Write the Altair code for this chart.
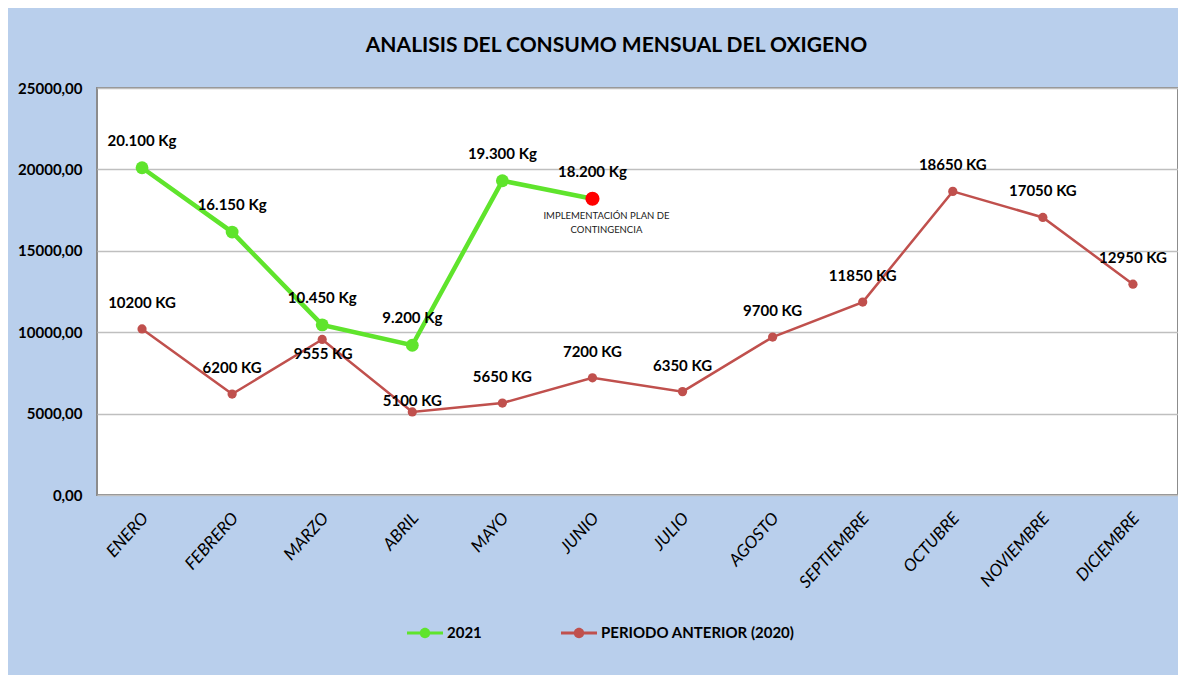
import altair as alt
import pandas as pd

months = ["ENERO", "FEBRERO", "MARZO", "ABRIL", "MAYO", "JUNIO", "JULIO",
          "AGOSTO", "SEPTIEMBRE", "OCTUBRE", "NOVIEMBRE", "DICIEMBRE"]
values_2021 = [20100, 16150, 10450, 9200, 19300, 18200]
values_2020 = [10200, 6200, 9555, 5100, 5650, 7200, 6350, 9700, 11850, 18650, 17050, 12950]
series_names = ["2021", "PERIODO ANTERIOR (2020)"]
y_ticks = [0, 5000, 10000, 15000, 20000, 25000]
note_month = "JUNIO"
note_text = "IMPLEMENTACIÓN PLAN DE\nCONTINGENCIA"
title_text = "ANALISIS DEL CONSUMO MENSUAL DEL OXIGENO"

GREEN = "#5fe42c"
RED = "#c0504d"
FONT = "Lato"

rows = []
for m, v in zip(months, values_2021):
    rows.append({"mes": m, "serie": series_names[0], "valor": v})
for m, v in zip(months, values_2020):
    rows.append({"mes": m, "serie": series_names[1], "valor": v})
df = pd.DataFrame(rows)

note_df = pd.DataFrame([{"mes": note_month, "serie": series_names[0],
                         "valor": values_2021[months.index(note_month)],
                         "nota": note_text}])

LEGEND_SYMBOL = ("M-1,-0.09 L1,-0.09 L1,0.09 L-1,0.09 Z "
                 "M0.29,0 A0.29,0.29 0 1,1 -0.29,0 A0.29,0.29 0 1,1 0.29,0 Z")

x_enc = alt.X("mes:N", sort=months, title=None,
              axis=alt.Axis(labelAngle=-48, labelAlign="right", labelBaseline="middle",
                            labelFont=FONT, labelFontStyle="italic", labelFontSize=17,
                            labelColor="black", labelPadding=20, labelOffset=3,
                            ticks=False, domain=False, grid=False))
y_enc = alt.Y("valor:Q", title=None,
              scale=alt.Scale(domain=[0, 25000], nice=False),
              axis=alt.Axis(values=y_ticks,
                            labelExpr="replace(format(datum.value, '.2f'), '.', ',')",
                            labelFont=FONT, labelFontWeight="bold", labelFontSize=15,
                            labelColor="black", labelPadding=15, ticks=False,
                            domain=False, grid=True, gridColor="#bfbfbf", gridWidth=1.5))
color_enc = alt.Color("serie:N",
                      scale=alt.Scale(domain=series_names, range=[GREEN, RED]),
                      legend=alt.Legend(orient="none", legendX=310, legendY=527,
                                        direction="horizontal", title=None,
                                        symbolType=LEGEND_SYMBOL, symbolSize=1296,
                                        symbolStrokeWidth=0, symbolOpacity=1,
                                        labelFont=FONT, labelLimit=400,
                                        labelFontWeight="bold", labelFontSize=15,
                                        labelColor="black", labelOffset=4,
                                        columnPadding=79, padding=0))

base = alt.Chart(df).encode(x=x_enc, y=y_enc, color=color_enc)

is20 = alt.datum.serie == series_names[1]
is21 = alt.datum.serie == series_names[0]

pts20 = base.transform_filter(is20).mark_point(filled=True, size=85, opacity=1)
line20 = base.transform_filter(is20).mark_line(strokeWidth=2.5)
line21 = base.transform_filter(is21).mark_line(strokeWidth=4.5)
pts21 = base.transform_filter(is21).mark_point(filled=True, size=165, opacity=1)
red_pt = base.transform_filter(is21 & (alt.datum.mes == note_month)).mark_point(
    filled=True, size=200, opacity=1).encode(color=alt.value("#ff0000"))

txt_style = dict(font=FONT, fontWeight="bold", fontSize=15, color="black", baseline="middle")

lab21 = alt.Chart(df).transform_filter(is21).transform_calculate(
    label="replace(format(datum.valor, ','), ',', '.') + ' Kg'"
).mark_text(dy=-27, **txt_style).encode(x=x_enc, y=y_enc, text="label:N")

lab20_calc = alt.Chart(df).transform_filter(is20).transform_calculate(
    label="format(datum.valor, 'd') + ' KG'")
lab20 = lab20_calc.transform_filter(
    (alt.datum.mes != "MARZO") & (alt.datum.mes != "ABRIL")
).mark_text(dy=-26, **txt_style).encode(x=x_enc, y=y_enc, text="label:N")
lab20_mar = lab20_calc.transform_filter(alt.datum.mes == "MARZO").mark_text(
    dy=15, dx=1, **txt_style).encode(x=x_enc, y=y_enc, text="label:N")
lab20_abr = lab20_calc.transform_filter(alt.datum.mes == "ABRIL").mark_text(
    dy=-11, **txt_style).encode(x=x_enc, y=y_enc, text="label:N")

note = alt.Chart(note_df).mark_text(
    font=FONT, fontSize=9.5, color="#1a1a1a", baseline="top", align="center",
    dy=12, dx=14, lineBreak="\n", lineHeight=14
).encode(x=x_enc, y=y_enc, text="nota:N")

chart = alt.layer(
    pts20, line20, line21, pts21, red_pt,
    lab21, lab20, lab20_mar, lab20_abr, note
).properties(
    width=1081, height=407,
    title=alt.Title(title_text, font=FONT, fontSize=21, fontWeight="bold",
                    color="black", anchor="middle", frame="group",
                    baseline="alphabetic", offset=8, dx=-21),
    autosize=alt.AutoSizeParams(type="none"),
    padding={"left": 89, "top": 80, "right": 0, "bottom": 180},
    background="#b9cfec",
).configure_view(
    fill="white", stroke="#8c8c8c", strokeWidth=2
)

chart.save("out.html", embed_options={"renderer": "svg", "actions": False})
